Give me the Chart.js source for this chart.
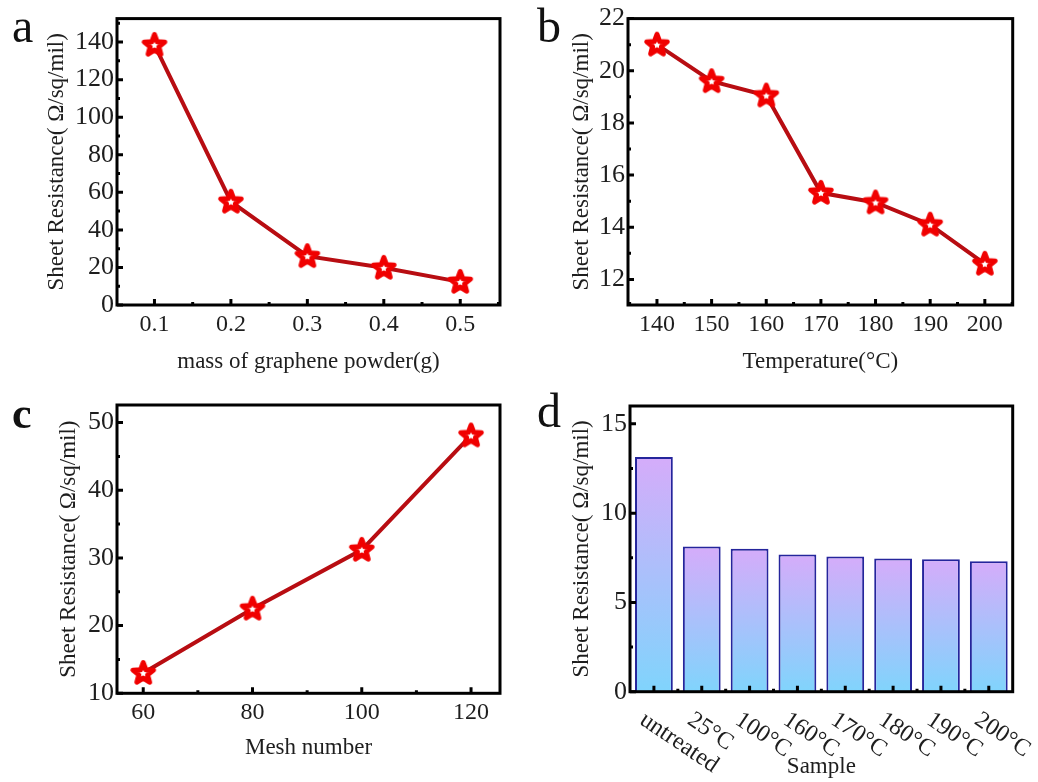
<!DOCTYPE html>
<html lang="en">
<head>
    <meta charset="UTF-8">
    <title>Sheet Resistance</title>
    <script src="https://cdn.jsdelivr.net/npm/chart.js"></script>
    <style>
        body {
            margin: 0;
            background: #fff;
        }
        .figure {
            position: relative;
            width: 1038px;
            height: 782px;
        }
        .figure canvas {
            position: absolute;
        }
    </style>
</head>
<body>
    <div class="figure">
        <canvas id="chartA" width="519" height="380" style="left:0;top:0"></canvas>
        <canvas id="chartB" width="519" height="380" style="left:519px;top:0"></canvas>
        <canvas id="chartC" width="519" height="402" style="left:0;top:380px"></canvas>
        <canvas id="chartD" width="519" height="402" style="left:519px;top:380px"></canvas>
    </div>

    <script>
        // a: graphene mass
        const massG = [0.1, 0.2, 0.3, 0.4, 0.5];
        const resMass = [138.5, 55, 26, 19.8, 12.3];
        // b: temperature
        const tempC = [140, 150, 160, 170, 180, 190, 200];
        const resTemp = [21.0, 19.6, 19.05, 15.32, 14.95, 14.1, 12.6];
        // c: mesh number
        const meshNum = [60, 80, 100, 120];
        const resMesh = [13, 22.5, 31.2, 48.1];
        // d: samples
        const samples = ['untreated', '25°C', '100°C', '160°C', '170°C', '180°C', '190°C', '200°C'];
        const resSample = [13.15, 8.13, 8.0, 7.68, 7.57, 7.46, 7.42, 7.31];

        const yTitle = 'Sheet Resistance( Ω/sq/mil)';
        const FONT = '"Liberation Serif", "Times New Roman", serif';
        const INK = '#1e1e1e';

        // star marker: red outline, white centre
        function makeStar() {
            const c = document.createElement('canvas');
            c.width = 30; c.height = 30;
            const g = c.getContext('2d');
            g.translate(15, 15.5);
            g.beginPath();
            for (let i = 0; i < 10; i++) {
                const r = i % 2 ? 4.6 : 10.8;
                const a = -Math.PI / 2 + i * Math.PI / 5;
                g.lineTo(r * Math.cos(a), r * Math.sin(a));
            }
            g.closePath();
            g.fillStyle = '#fff';
            g.fill();
            g.lineJoin = 'round';
            g.lineWidth = 5;
            g.strokeStyle = '#f00000';
            g.stroke();
            return c;
        }
        const star = makeStar();

        // box frame, inward ticks, panel letter, slanted labels
        const frame = {
            id: 'frame',
            afterDraw(chart, args, opts) {
                const { ctx, chartArea: a, scales: { x, y } } = chart;
                ctx.save();
                ctx.strokeStyle = '#000';
                ctx.lineWidth = 3;

                const minors = (s) => {
                    const v = s.ticks.map(t => t.value);
                    const step = v[1] - v[0];
                    const eps = (s.max - s.min) * 1e-6;
                    const out = [];
                    v.forEach(t => {
                        [t - step / 2, t + step / 2].forEach(m => {
                            if (m > s.min + eps && m < s.max - eps && !out.some(o => Math.abs(o - m) < eps)) out.push(m);
                        });
                    });
                    return out;
                };

                ctx.beginPath();
                x.ticks.forEach(t => {
                    const px = x.getPixelForValue(t.value);
                    ctx.moveTo(px, a.bottom); ctx.lineTo(px, a.bottom - 6);
                });
                minors(x).forEach(m => {
                    const px = x.getPixelForValue(m);
                    ctx.moveTo(px, a.bottom); ctx.lineTo(px, a.bottom - 3);
                });
                y.ticks.forEach(t => {
                    const py = y.getPixelForValue(t.value);
                    ctx.moveTo(a.left, py); ctx.lineTo(a.left + 6, py);
                });
                minors(y).forEach(m => {
                    const py = y.getPixelForValue(m);
                    ctx.moveTo(a.left, py); ctx.lineTo(a.left + 3, py);
                });
                ctx.stroke();

                ctx.strokeRect(a.left, a.top, a.right - a.left, a.bottom - a.top);

                ctx.fillStyle = '#111';
                ctx.font = opts.letterFont;
                ctx.textBaseline = 'alphabetic';
                ctx.fillText(opts.letter, opts.lx, opts.ly);

                if (opts.slanted) {
                    ctx.fillStyle = INK;
                    ctx.font = '24px ' + FONT;
                    ctx.textAlign = 'left';
                    ctx.textBaseline = 'middle';
                    chart.data.labels.forEach((lab, i) => {
                        const px = x.getPixelForValue(i);
                        ctx.save();
                        ctx.translate(px - 12, a.bottom + 26);
                        ctx.rotate(34 * Math.PI / 180);
                        ctx.fillText(lab, 0, 0);
                        ctx.restore();
                    });
                }
                ctx.restore();
            }
        };

        function xAxis(min, max, step, height, title, titlePad) {
            return {
                type: 'linear', min, max,
                grid: { display: false, drawTicks: false }, border: { display: false },
                ticks: { stepSize: step, includeBounds: false, autoSkip: false, color: INK, font: { family: FONT, size: 24 }, padding: 5, maxRotation: 0 },
                title: { display: true, text: title, color: INK, font: { family: FONT, size: 23 }, padding: { top: 0, bottom: titlePad } },
                afterFit: s => { s.height = height; }
            };
        }

        function yAxis(min, max, step, width, titlePad) {
            return {
                min, max,
                grid: { display: false, drawTicks: false }, border: { display: false },
                ticks: { stepSize: step, includeBounds: false, color: INK, font: { family: FONT, size: 26 }, padding: 3 },
                title: { display: true, text: yTitle, color: INK, font: { family: FONT, size: 23 }, padding: { top: titlePad, bottom: 0 } },
                afterFit: s => { s.width = width; }
            };
        }

        function lineChart(id, xs, ys, xScale, yScale, pad, letter) {
            return new Chart(document.getElementById(id), {
                type: 'line',
                data: {
                    datasets: [{
                        data: xs.map((v, i) => ({ x: v, y: ys[i] })),
                        borderColor: '#b80d12',
                        borderWidth: 4,
                        pointStyle: star,
                        tension: 0
                    }]
                },
                options: {
                    responsive: false,
                    animation: false,
                    layout: { padding: pad },
                    scales: { x: xScale, y: yScale },
                    plugins: {
                        legend: { display: false },
                        tooltip: { enabled: false },
                        frame: letter
                    }
                },
                plugins: [frame]
            });
        }

        lineChart('chartA', massG, resMass,
            xAxis(0.051, 0.552, 0.1, 75, 'mass of graphene powder(g)', 4),
            yAxis(0, 152.5, 20, 117, 43),
            { top: 17, right: 19, left: 0, bottom: 0 },
            { letter: 'a', lx: 12, ly: 42, letterFont: '48px ' + FONT });

        lineChart('chartB', tempC, resTemp,
            xAxis(134.7, 205.1, 10, 75, 'Temperature(°C)', 4),
            yAxis(11.02, 22, 2, 109, 49),
            { top: 17, right: 25.3, left: 0, bottom: 0 },
            { letter: 'b', lx: 18, ly: 42, letterFont: '48px ' + FONT });

        lineChart('chartC', meshNum, resMesh,
            xAxis(55.2, 125.3, 20, 88.7, 'Mesh number', 20),
            yAxis(10, 52.6, 10, 117, 55),
            { top: 25, right: 19, left: 0, bottom: 0 },
            { letter: 'c', lx: 12, ly: 48, letterFont: 'bold 44px ' + FONT });

        new Chart(document.getElementById('chartD'), {
            type: 'bar',
            data: {
                labels: samples,
                datasets: [{
                    data: resSample,
                    backgroundColor: c => {
                        const ys = c.chart.scales.y;
                        const fallback = '#b9c0fa';
                        if (!ys || typeof c.raw !== 'number') return fallback;
                        const top = ys.getPixelForValue(c.raw), base = ys.getPixelForValue(0);
                        if (!isFinite(top) || !isFinite(base)) return fallback;
                        const g = c.chart.ctx.createLinearGradient(0, top, 0, base);
                        g.addColorStop(0, '#d5acfa');
                        g.addColorStop(1, '#80d4fc');
                        return g;
                    },
                    borderColor: '#25259c',
                    borderWidth: 2,
                    barPercentage: 0.79,
                    categoryPercentage: 1
                }]
            },
            options: {
                responsive: false,
                animation: false,
                layout: { padding: { top: 26, right: 25.3, left: 0, bottom: 0 } },
                scales: {
                    x: {
                        grid: { display: false, drawTicks: false }, border: { display: false },
                        ticks: { display: false },
                        title: { display: true, text: 'Sample', color: INK, font: { family: FONT, size: 23 }, padding: { top: 0, bottom: 1 } },
                        afterFit: s => { s.height = 90.3; }
                    },
                    y: yAxis(0, 16, 5, 111, 49)
                },
                plugins: {
                    legend: { display: false },
                    tooltip: { enabled: false },
                    frame: { letter: 'd', lx: 18, ly: 47, letterFont: '48px ' + FONT, slanted: true }
                }
            },
            plugins: [frame]
        });
    </script>
</body>
</html>
